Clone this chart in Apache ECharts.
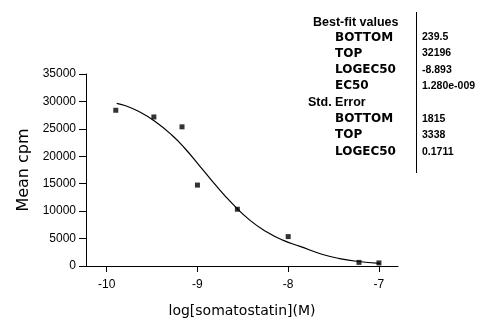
<!DOCTYPE html>
<html>
<head>
<meta charset="utf-8">
<script src="https://cdn.jsdelivr.net/npm/echarts@6/dist/echarts.min.js"></script>
<style>
  html, body { margin: 0; padding: 0; background: #fff; }
  #chart { width: 502px; height: 323px; }
</style>
</head>
<body>
<div id="chart"></div>
<script>
// Measured binding: log concentration (M) vs mean counts per minute
const doseLog = [-9.90, -9.48, -9.17, -9.00, -8.56, -8.00, -7.22, -7.00];
const meanCpm = [28390, 27170, 25370, 14750, 10350, 5360, 660, 560];

// Fitted dose-response curve, sampled along the concentration axis
const fitLog = [-9.89, -9.80, -9.65, -9.47, -9.28, -9.14, -8.99, -8.83, -8.61, -8.42, -8.24, -8.06, -7.87, -7.62, -7.43, -7.25, -6.99];
const fitCpm = [29660, 29250, 28200, 26400, 23840, 21460, 18540, 15340, 11270, 8320, 6250, 4720, 3580, 2100, 1350, 870, 490];

// Axis ticks
const xTicks = [-10, -9, -8, -7];

// Fit results table
const sectionTitles = ['Best-fit values', 'Std. Error'];
const bestFitNames = ['BOTTOM', 'TOP', 'LOGEC50', 'EC50'];
const bestFitValues = ['239.5', '32196', '-8.893', '1.280e-009'];
const stdErrNames = ['BOTTOM', 'TOP', 'LOGEC50'];
const stdErrValues = ['1815', '3338', '0.1711'];

const chart = echarts.init(document.getElementById('chart'), null, { renderer: 'canvas' });

const rowY = [22.5, 37.5, 53.5, 70, 86, 102.5, 119, 135, 151.7];
const headStyle = { fontFamily: 'Liberation Sans', fontWeight: 'bold', fontSize: 12.5 };
const nameStyle = { fontFamily: 'DejaVu Sans', fontWeight: 'bold', fontSize: 12 };
const valueStyle = { fontFamily: 'Liberation Sans', fontWeight: 'bold', fontSize: 10.5 };

const tableItems = [];
function addText(x, y, text, st) {
  tableItems.push({
    type: 'text', x: x, y: y,
    style: Object.assign({ text: text, fill: '#000', verticalAlign: 'middle', align: 'left' }, st)
  });
}
addText(313, rowY[0], sectionTitles[0], headStyle);
bestFitNames.forEach((n, i) => {
  addText(335, rowY[1 + i], n, nameStyle);
  addText(422, rowY[1 + i], bestFitValues[i], valueStyle);
});
addText(308, rowY[5], sectionTitles[1], headStyle);
stdErrNames.forEach((n, i) => {
  addText(335, rowY[6 + i], n, nameStyle);
  addText(422, rowY[6 + i], stdErrValues[i], valueStyle);
});
tableItems.push({
  type: 'line',
  shape: { x1: 416.5, y1: 12, x2: 416.5, y2: 173 },
  style: { stroke: '#000', lineWidth: 1 }
});

const axisFont = 'Liberation Sans';

chart.setOption({
  animation: false,
  backgroundColor: '#fff',
  grid: { left: 86, right: 104, top: 74, bottom: 47.5 },
  xAxis: {
    type: 'value',
    min: -10.228,
    max: -6.79,
    name: 'log[somatostatin](M)',
    nameLocation: 'middle',
    nameGap: 38,
    nameTextStyle: { fontFamily: 'DejaVu Sans', fontSize: 14, color: '#000' },
    axisLine: { show: true, onZero: false, lineStyle: { color: '#000', width: 1 } },
    axisTick: { show: true, length: 6, lineStyle: { color: '#000' }, customValues: xTicks },
    axisLabel: { customValues: xTicks, color: '#000', fontFamily: axisFont, fontSize: 12, margin: 13 },
    splitLine: { show: false }
  },
  yAxis: {
    type: 'value',
    min: 0,
    max: 35000,
    interval: 5000,
    name: 'Mean cpm',
    nameLocation: 'middle',
    nameGap: 54,
    nameTextStyle: { fontFamily: 'DejaVu Sans', fontSize: 16, color: '#000' },
    axisLine: { show: true, lineStyle: { color: '#000', width: 1 } },
    axisTick: { show: true, length: 7, lineStyle: { color: '#000' } },
    axisLabel: {
      color: '#000', fontFamily: axisFont, fontSize: 12, margin: 10,
      formatter: (v) => String(v)
    },
    splitLine: { show: false }
  },
  series: [
    {
      type: 'line',
      data: fitLog.map((x, i) => [x, fitCpm[i]]),
      smooth: true,
      showSymbol: false,
      lineStyle: { color: '#000', width: 1.2 },
      z: 2
    },
    {
      type: 'scatter',
      data: doseLog.map((x, i) => [x, meanCpm[i]]),
      symbol: 'rect',
      symbolSize: 5,
      itemStyle: { color: '#000' },
      z: 3
    }
  ],
  graphic: tableItems
});
</script>
</body>
</html>
